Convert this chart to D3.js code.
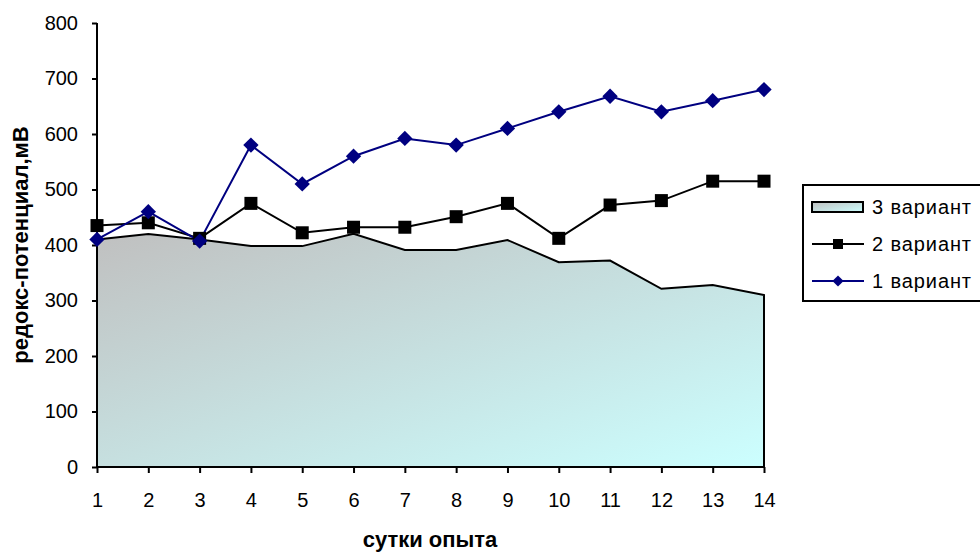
<!DOCTYPE html>
<meta charset="utf-8">
<body style="margin:0;background-color:white;">
<svg width="980" height="553"></svg>
<script src="https://cdn.jsdelivr.net/npm/d3@7"></script>
<script>

// values
var days = [1, 2, 3, 4, 5, 6, 7, 8, 9, 10, 11, 12, 13, 14];
var variant1 = [410, 460, 407, 580, 510, 560, 592, 580, 610, 640, 668, 640, 660, 680];
var variant2 = [435, 440, 412, 475, 422, 432, 432, 451, 475, 412, 472, 480, 515, 515];
var variant3 = [410, 420, 410, 398, 398, 420, 391, 391, 409, 369, 372, 321, 328, 310];
var yTicks = [0, 100, 200, 300, 400, 500, 600, 700, 800];
var legendNames = ["3 вариант", "2 вариант", "1 вариант"];

var svg = d3.select("svg");
var font = "Arial, 'Liberation Sans', sans-serif";

var x = d3.scalePoint().domain(days).range([97, 764]);
var y = d3.scaleLinear().domain([0, 800]).range([467, 23]);

var defs = svg.append("defs");
// diagonal grey -> light cyan fill, same for area and legend swatch
["areaGrad", "legGrad"].forEach(function(id) {
	var g = defs.append("linearGradient")
	            .attr("id", id)
	            .attr("x1", 0).attr("y1", 0).attr("x2", 1).attr("y2", 1);
	g.append("stop").attr("offset", "0%").attr("stop-color", "#c0c0c0");
	g.append("stop").attr("offset", "100%").attr("stop-color", "#ccffff");
});

// area series (3 вариант)
var area = d3.area()
             .x(function(d, i) { return x(days[i]); })
             .y0(y(0))
             .y1(function(d) { return y(d); });
svg.append("path")
   .datum(variant3)
   .attr("d", area)
   .attr("fill", "url(#areaGrad)")
   .attr("stroke", "black")
   .attr("stroke-width", 2);

// axes
var yAxis = d3.axisLeft(y).tickValues(yTicks).tickSize(5).tickPadding(14);
var gy = svg.append("g").attr("transform", "translate(97,0)").call(yAxis);
var xAxis = d3.axisBottom(x).tickSize(6).tickPadding(20);
var gx = svg.append("g").attr("transform", "translate(0,467)").call(xAxis);

[gx, gy].forEach(function(g) {
	g.select(".domain").attr("stroke", "black").attr("stroke-width", 2);
	g.selectAll(".tick line").attr("stroke", "black").attr("stroke-width", 2);
	g.selectAll(".tick text")
	 .attr("fill", "black")
	 .style("font-family", font)
	 .style("font-size", "20px");
});
gx.select(".domain").attr("d", "M97,0H764");
gy.select(".domain").attr("d", "M0,23V467");

// line series
var line = d3.line()
             .x(function(d, i) { return x(days[i]); })
             .y(function(d) { return y(d); });

svg.append("path")
   .datum(variant2)
   .attr("d", line)
   .attr("fill", "none")
   .attr("stroke", "black")
   .attr("stroke-width", 2);

svg.append("path")
   .datum(variant1)
   .attr("d", line)
   .attr("fill", "none")
   .attr("stroke", "#000080")
   .attr("stroke-width", 2);

svg.append("g").selectAll("rect")
   .data(variant2)
   .enter().append("rect")
   .attr("x", function(d, i) { return x(days[i]) - 6.5; })
   .attr("y", function(d) { return y(d) - 6.5; })
   .attr("width", 13)
   .attr("height", 13)
   .attr("fill", "black");

var diamond = d3.symbol().type(d3.symbolDiamond2).size(150);
svg.append("g").selectAll("path")
   .data(variant1)
   .enter().append("path")
   .attr("d", diamond)
   .attr("transform", function(d, i) { return "translate(" + x(days[i]) + "," + y(d) + ")"; })
   .attr("fill", "#000080");

// axis titles
svg.append("text")
   .attr("x", 430).attr("y", 547)
   .attr("text-anchor", "middle")
   .style("font-family", font)
   .style("font-size", "22px")
   .style("font-weight", "bold")
   .text("сутки опыта");

svg.append("text")
   .attr("transform", "translate(28,245)rotate(-90)")
   .attr("text-anchor", "middle")
   .style("font-family", font)
   .style("font-size", "22px")
   .style("font-weight", "bold")
   .text("редокс-потенциал,мВ");

// legend
var legend = svg.append("g").attr("transform", "translate(803,185)");
legend.append("rect")
      .attr("x", 0).attr("y", 0)
      .attr("width", 200).attr("height", 116)
      .attr("fill", "white")
      .attr("stroke", "black")
      .attr("stroke-width", 2);

var rows = [22, 59, 96];
legend.append("rect")
      .attr("x", 9).attr("y", rows[0] - 5)
      .attr("width", 51).attr("height", 10)
      .attr("fill", "url(#legGrad)")
      .attr("stroke", "black")
      .attr("stroke-width", 2);
legend.append("line")
      .attr("x1", 9).attr("x2", 61).attr("y1", rows[1]).attr("y2", rows[1])
      .attr("stroke", "black").attr("stroke-width", 2);
legend.append("rect")
      .attr("x", 30).attr("y", rows[1] - 5)
      .attr("width", 10).attr("height", 10)
      .attr("fill", "black");
legend.append("line")
      .attr("x1", 9).attr("x2", 61).attr("y1", rows[2]).attr("y2", rows[2])
      .attr("stroke", "#000080").attr("stroke-width", 2);
legend.append("path")
      .attr("d", d3.symbol().type(d3.symbolDiamond2).size(80))
      .attr("transform", "translate(35," + rows[2] + ")")
      .attr("fill", "#000080");

legend.selectAll("text.leg")
      .data(legendNames)
      .enter().append("text")
      .attr("class", "leg")
      .attr("x", 69)
      .attr("y", function(d, i) { return rows[i]; })
      .attr("dy", "0.36em")
      .style("font-family", font)
      .style("font-size", "20px")
      .style("letter-spacing", "0.9px")
      .text(function(d) { return d; });

</script>
</body>
